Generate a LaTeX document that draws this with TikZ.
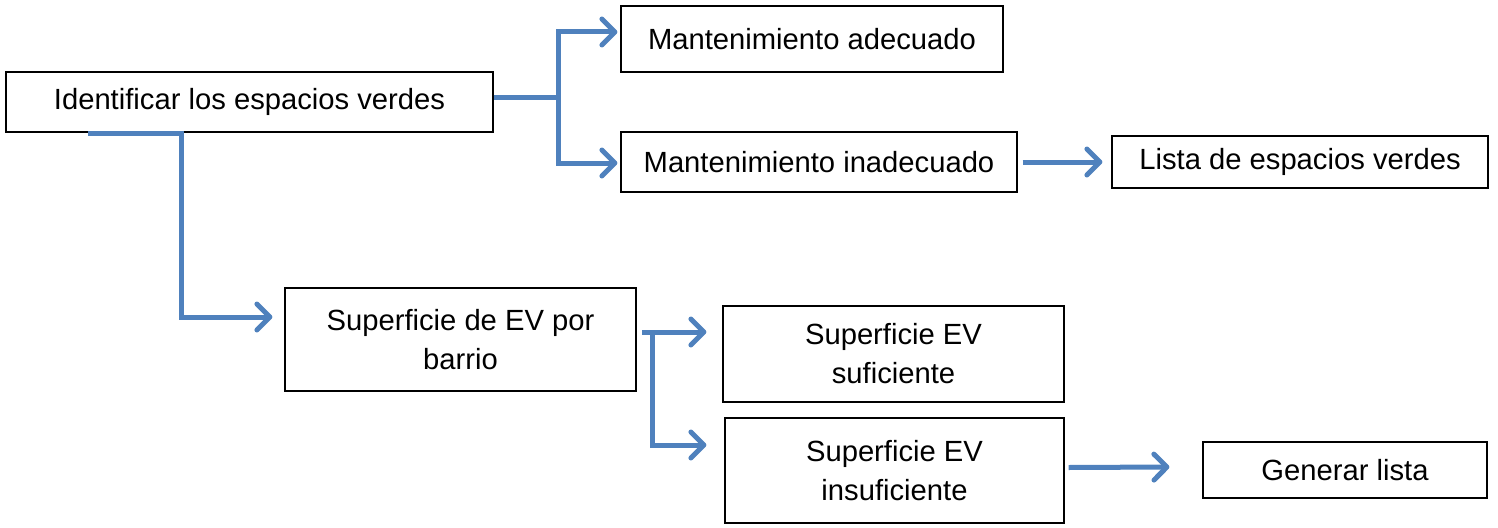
\documentclass[tikz,border=0pt]{standalone}
\usepackage{fontspec}
\setmainfont{Liberation Sans}
\usetikzlibrary{arrows.meta}
\definecolor{connblue}{HTML}{4F81BD}
\begin{document}
\begin{tikzpicture}[x=1pt,y=-1pt,
  box/.style={draw=black, line width=1.2pt, inner sep=0pt, align=center,
    font=\fontsize{29.2}{39}\selectfont},
  link/.style={draw=connblue, line width=5pt},
  conn/.style={link, -{Straight Barb[length=13pt,width=26pt,round]}}]
\useasboundingbox (0,0) rectangle (1498,527);
% boxes
\node[box, minimum width=487pt, minimum height=60pt] (a) at (249.5,102) {Identificar los espacios verdes};
\node[box, minimum width=382pt, minimum height=66pt] (b) at (812,39) {Mantenimiento adecuado};
\node[box, minimum width=396pt, minimum height=60pt] (c) at (819,162) {Mantenimiento inadecuado};
\node[box, minimum width=376pt, minimum height=52pt] (d) at (1300,162) {Lista de espacios verdes};
\node[box, minimum width=351pt, minimum height=103pt] (e) at (460.5,339.5) {Superficie de EV por\\barrio};
\node[box, minimum width=341pt, minimum height=96pt] (f) at (893.5,354) {Superficie EV\\suficiente};
\node[box, minimum width=339pt, minimum height=105pt] (g) at (894.5,470.5) {Superficie EV\\insuficiente};
\node[box, minimum width=284pt, minimum height=56pt] (h) at (1345,470) {Generar lista};
% junction coordinates
\coordinate (j1) at (558,97);
\coordinate (s1) at (88,133);
\coordinate (k1) at (181,133);
\coordinate (j2) at (642,332);
\coordinate (k2) at (652,332);
% connectors
\draw[link] (a.east |- j1) -- (j1);
\draw[conn] (j1) |- ([yshift=7pt,xshift=-3pt]b.west);
\draw[conn] (j1) |- ([yshift=-1pt,xshift=-3pt]c.west);
\draw[conn] ([xshift=5pt]c.east) -- ([xshift=-9pt]d.west);
\draw[conn] (s1) -- (k1) |- ([xshift=-12pt,yshift=22.5pt]e.west);
\draw[conn] (j2) -- (k2) -- ([xshift=-16pt]k2 -| f.west);
\draw[conn] (k2) |- ([xshift=-18pt,yshift=25.5pt]g.west);
\draw[conn] ([xshift=4pt,yshift=3pt]g.east) -- ([xshift=-33pt,yshift=3pt]h.west);
\end{tikzpicture}
\end{document}
